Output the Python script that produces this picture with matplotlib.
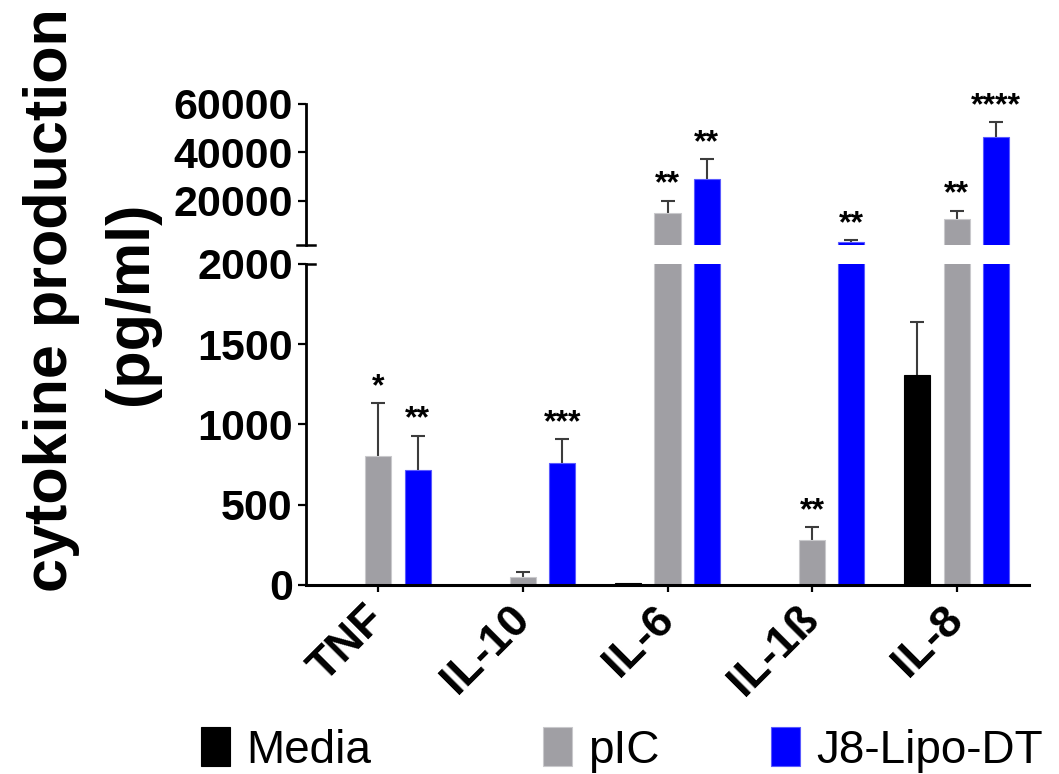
import matplotlib
matplotlib.use("Agg")
import matplotlib.pyplot as plt
from matplotlib.patches import Patch
import numpy as np

plt.rcParams["font.family"] = ["Liberation Sans", "DejaVu Sans"]

# cytokine levels (pg/ml), mean and SEM per treatment
cytokines = ["TNF", "IL-10", "IL-6", "IL-1ß", "IL-8"]
treatments = ["Media", "pIC", "J8-Lipo-DT"]

media = [0, 0, 10, 0, 1307]
media_sem = [0, 0, 0, 0, 332]
pic = [805, 50, 14930, 280, 12580]
pic_sem = [326, 33, 5070, 79, 3420]
j8 = [716, 761, 29200, 2900, 46270]
j8_sem = [211, 146, 8000, 900, 6190]

pic_stars = ["*", "", "**", "**", "**"]
j8_stars = ["**", "***", "**", "**", "****"]

colors = ["#000000", "#A09FA4", "#0000FF"]
edges = ["#000000", "#C9C9CC", "#5A5AFF"]

low_ticks = [0, 500, 1000, 1500, 2000]
high_ticks = [20000, 40000, 60000]
split = 2000

fig = plt.figure(figsize=(10.59, 7.74), dpi=100)
W, H = 1059, 774
left, right = 306 / W, 1029 / W
ax_lo = fig.add_axes([left, 1 - 585 / H, right - left, (585 - 263.7) / H])
ax_hi = fig.add_axes([left, 1 - 244.6 / H, right - left, (244.6 - 104) / H])

x = np.arange(len(cytokines))
offset = 0.272
width = 0.18
groups = [(media, media_sem), (pic, pic_sem), (j8, j8_sem)]

for ax in (ax_lo, ax_hi):
    for i, (vals, sem) in enumerate(groups):
        xs = x + (i - 1) * offset
        vals = np.array(vals, float)
        sem = np.array(sem, float)
        # the upper segment only shows bars that reach past the break
        keep = np.ones(len(vals), bool) if ax is ax_lo else vals > split
        ax.bar(xs[keep], vals[keep], width, color=colors[i], edgecolor=edges[i],
               linewidth=0.8, zorder=2)
        # one-sided SEM: stem from the bar top plus a cap
        m = keep & (sem > 0)
        ax.vlines(xs[m], vals[m], vals[m] + sem[m], color="#3c3c3c", lw=1.5, zorder=1)
        ax.plot(xs[m], vals[m] + sem[m], ls="none", marker="_", ms=9.5, mew=1.5,
                color="#3c3c3c", zorder=1)

ax_lo.set_ylim(0, split)
ax_hi.set_ylim(split, 60000)
for ax in (ax_lo, ax_hi):
    ax.set_xlim(-0.5, 4.5)
    ax.spines["top"].set_visible(False)
    ax.spines["right"].set_visible(False)
    ax.spines["left"].set_linewidth(2)
    ax.spines["bottom"].set_linewidth(2.2)
    ax.tick_params(axis="y", length=5.5, width=1.6, pad=4, labelsize=31)

ax_hi.spines["bottom"].set_visible(False)
ax_hi.set_xticks([])
ax_hi.set_yticks(high_ticks)
ax_hi.set_yticklabels([str(t) for t in high_ticks], fontsize=31, fontweight="bold")
ax_lo.set_yticks(low_ticks)
ax_lo.set_yticklabels([str(t) for t in low_ticks], fontsize=31, fontweight="bold")

ax_lo.set_xticks(x)
ax_lo.set_xticklabels(cytokines, rotation=45, ha="right", va="center",
                      rotation_mode="anchor", fontsize=32.5, fontweight="bold")
ax_lo.tick_params(axis="x", length=5, width=1.6, pad=15)

# break caps on the segmented y axis
ax_hi.plot([-0.012, 0.012], [0, 0], transform=ax_hi.transAxes, color="k",
           lw=1.8, clip_on=False)
ax_lo.plot([0, 0.012], [1, 1], transform=ax_lo.transAxes, color="k",
           lw=1.8, clip_on=False)

# significance stars above the error bars
for i, (vals, sem, stars) in enumerate([(pic, pic_sem, pic_stars), (j8, j8_sem, j8_stars)]):
    for k in range(len(cytokines)):
        if not stars[k]:
            continue
        top = vals[k] + sem[k]
        ax = ax_hi if top > split else ax_lo
        ax.annotate(stars[k], (x[k] + i * offset, top), xytext=(0, 6),
                    textcoords="offset points", ha="center", va="baseline",
                    fontsize=23, fontweight="bold")

fig.text(67 / W, 1 - 300 / H, "cytokine production", rotation=90,
         rotation_mode="anchor", ha="center", va="baseline",
         fontsize=44, fontweight="bold")
fig.text(147 / W, 1 - 303 / H, "(pg/ml)", rotation=90,
         rotation_mode="anchor", ha="center", va="baseline",
         fontsize=44, fontweight="bold")

# legend entries spread along the bottom
for i, xpos in enumerate([201, 543, 771]):
    h = Patch(facecolor=colors[i], edgecolor=edges[i], linewidth=0.8)
    fig.legend(handles=[h], labels=[treatments[i]], loc="center left",
               bbox_to_anchor=(xpos / W, 1 - 750 / H), frameon=False,
               fontsize=33, handlelength=0.63, handleheight=0.93,
               handletextpad=0.35, borderpad=0, borderaxespad=0)

fig.savefig("out.png", dpi=100)
